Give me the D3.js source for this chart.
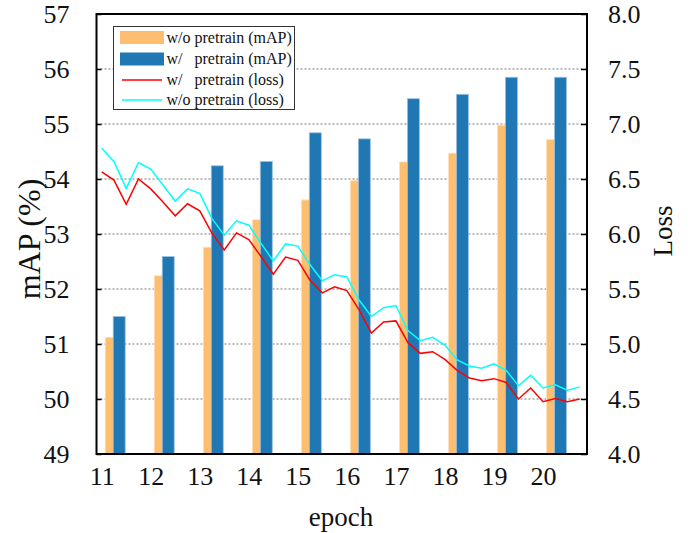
<!DOCTYPE html>
<html>
<head>
<meta charset="utf-8">
<script src="https://cdn.jsdelivr.net/npm/d3@7"></script>
<style>
  html, body { margin: 0; padding: 0; background: #fff; }
  svg { display: block; }
  svg text { font-family: "Liberation Serif", "Times New Roman", serif !important; white-space: pre; }
</style>
</head>
<body>
<svg id="chart" width="697" height="533"></svg>
<script>
// ---- data ----
const epochs = [11, 12, 13, 14, 15, 16, 17, 18, 19, 20];
const mapWithout = [51.12, 52.24, 52.76, 53.26, 53.62, 53.97, 54.31, 54.47, 54.98, 54.72];
const mapWith    = [51.50, 52.59, 54.24, 54.32, 54.84, 54.73, 55.46, 55.54, 55.85, 55.85];
const lossSteps  = [11, 11.25, 11.5, 11.75, 12, 12.25, 12.5, 12.75, 13, 13.25,
                    13.5, 13.75, 14, 14.25, 14.5, 14.75, 15, 15.25, 15.5, 15.75,
                    16, 16.25, 16.5, 16.75, 17, 17.25, 17.5, 17.75, 18, 18.25,
                    18.5, 18.75, 19, 19.25, 19.5, 19.75, 20, 20.25, 20.5, 20.75];
const lossWith = [6.565, 6.49, 6.27, 6.50, 6.41, 6.29, 6.165, 6.275, 6.21, 6.005,
                  5.855, 6.01, 5.95, 5.795, 5.635, 5.79, 5.76, 5.58, 5.465, 5.52,
                  5.485, 5.31, 5.10, 5.20, 5.21, 5.01, 4.915, 4.93, 4.86, 4.76,
                  4.69, 4.665, 4.685, 4.65, 4.50, 4.60, 4.475, 4.505, 4.475, 4.50];
const lossWithout = [6.78, 6.66, 6.415, 6.65, 6.59, 6.445, 6.30, 6.41, 6.37, 6.14,
                     5.99, 6.12, 6.08, 5.915, 5.755, 5.91, 5.89, 5.72, 5.575, 5.63,
                     5.61, 5.40, 5.25, 5.33, 5.35, 5.12, 5.03, 5.06, 4.99, 4.855,
                     4.80, 4.78, 4.82, 4.76, 4.62, 4.715, 4.60, 4.63, 4.58, 4.61];
const mapTicks  = [49, 50, 51, 52, 53, 54, 55, 56, 57];
const lossTicks = [4.0, 4.5, 5.0, 5.5, 6.0, 6.5, 7.0, 7.5, 8.0];
const legendLabels = ["w/o pretrain (mAP)", "w/   pretrain (mAP)", "w/   pretrain (loss)", "w/o pretrain (loss)"];

// ---- layout ----
const L = 96.5, R = 587, T = 14, B = 454;
const cOrange = "#fdbf6f", cBlue = "#1f78b4", cRed = "#ff0000", cCyan = "#00ffff";
const SERIF = "'Liberation Serif', 'Times New Roman', serif";

const svg = d3.select("#chart");
const x = d3.scaleLinear().domain([10.894, 20.898]).range([L, R]);
const yM = d3.scaleLinear().domain([49, 57]).range([B, T]);
const yL = d3.scaleLinear().domain([4, 8]).range([B, T]);

// grid
svg.append("g").selectAll("line")
  .data(mapTicks.filter(d => d > 49 && d < 57))
  .join("line")
  .attr("x1", L).attr("x2", R)
  .attr("y1", d => yM(d)).attr("y2", d => yM(d))
  .attr("stroke", "#777").attr("stroke-width", 1)
  .attr("stroke-dasharray", "2,2");

// bars
const bw = 12;
svg.append("g").selectAll("rect")
  .data(epochs.map((e, i) => ({e, v: mapWithout[i]})))
  .join("rect")
  .attr("x", d => x(d.e) + 3.5).attr("width", bw)
  .attr("y", d => yM(d.v)).attr("height", d => B - yM(d.v))
  .attr("fill", cOrange).attr("stroke", "#fde3c0").attr("stroke-width", 0.8);
svg.append("g").selectAll("rect")
  .data(epochs.map((e, i) => ({e, v: mapWith[i]})))
  .join("rect")
  .attr("x", d => x(d.e) + 11.5).attr("width", bw)
  .attr("y", d => yM(d.v)).attr("height", d => B - yM(d.v))
  .attr("fill", cBlue).attr("stroke", "#9cc3e0").attr("stroke-width", 0.8);

// loss lines
const line = d3.line().x(d => x(d[0])).y(d => yL(d[1]));
svg.append("path").datum(lossSteps.map((s, i) => [s, lossWithout[i]]))
  .attr("d", line).attr("fill", "none").attr("stroke", cCyan).attr("stroke-width", 1.5);
svg.append("path").datum(lossSteps.map((s, i) => [s, lossWith[i]]))
  .attr("d", line).attr("fill", "none").attr("stroke", cRed).attr("stroke-width", 1.5);

// frame
svg.append("rect").attr("x", L).attr("y", T).attr("width", R - L).attr("height", B - T)
  .attr("fill", "none").attr("stroke", "#000").attr("stroke-width", 2);

// axes
const fs = 26;
function styleAxis(g) {
  g.attr("font-family", null).attr("font-size", null);
  g.select(".domain").remove();
  g.selectAll("line").attr("stroke", "#000").attr("stroke-width", 1.5);
  g.selectAll("text").style("font-family", SERIF).style("font-size", fs + "px").attr("fill", "#111");
}
const leftAxis = d3.axisLeft(yM).tickValues(mapTicks).tickFormat(d3.format("d")).tickSizeInner(-5).tickSizeOuter(0).tickPadding(27);
svg.append("g").attr("transform", `translate(${L},0)`).call(leftAxis).call(styleAxis);

const rightAxis = d3.axisRight(yL).tickValues(lossTicks).tickFormat(d3.format(".1f")).tickSizeInner(-6).tickSizeOuter(0).tickPadding(21);
svg.append("g").attr("transform", `translate(${R},0)`).call(rightAxis).call(styleAxis);

const bottomAxis = d3.axisBottom(x).tickValues(epochs).tickFormat(d3.format("d")).tickSize(0).tickPadding(13);
svg.append("g").attr("transform", `translate(0,${B})`).call(bottomAxis).call(styleAxis);

// axis titles
svg.append("text").attr("transform", `translate(40,${(T + B) / 2 + 5}) rotate(-90)`)
  .attr("text-anchor", "middle").style("font-size", "32px").attr("fill", "#111").text("mAP (%)");
svg.append("text").attr("transform", `translate(672,231) rotate(-90)`)
  .attr("text-anchor", "middle").style("font-size", "27px").attr("fill", "#111").text("Loss");
svg.append("text").attr("x", 341).attr("y", 526)
  .attr("text-anchor", "middle").style("font-size", "27px").attr("fill", "#111").text("epoch");

// legend
const lg = svg.append("g");
lg.append("rect").attr("x", 113.5).attr("y", 26.5).attr("width", 181).attr("height", 83)
  .attr("fill", "#fff").attr("stroke", "#333").attr("stroke-width", 1);
const rows = [37.5, 59, 80, 100];
const kinds = [{t: "rect", c: cOrange}, {t: "rect", c: cBlue}, {t: "line", c: cRed}, {t: "line", c: cCyan}];
kinds.forEach((k, i) => {
  if (k.t === "rect") {
    lg.append("rect").attr("x", 120).attr("y", rows[i] - 6.5).attr("width", 44).attr("height", 13).attr("fill", k.c);
  } else {
    lg.append("line").attr("x1", 122).attr("x2", 162).attr("y1", rows[i]).attr("y2", rows[i])
      .attr("stroke", k.c).attr("stroke-width", 1.5);
  }
  lg.append("text").attr("x", 166.5).attr("y", rows[i]).attr("dy", "0.33em")
    .style("font-size", "16px").attr("fill", "#111").text(legendLabels[i]);
});
</script>
</body>
</html>
